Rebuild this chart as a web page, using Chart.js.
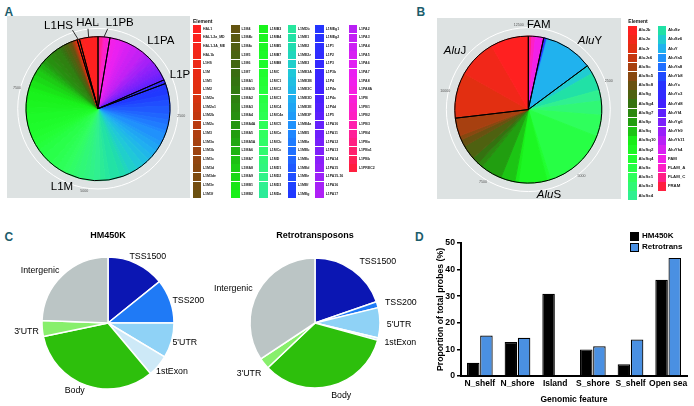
<!DOCTYPE html>
<html>
<head>
<meta charset="utf-8">
<script src="https://cdn.jsdelivr.net/npm/chart.js@4.4.1/dist/chart.umd.min.js"></script>
<style>
  body { margin: 0; width: 694px; height: 406px; position: relative; overflow: hidden; background: #fff; font-family: "Liberation Sans", Arial, sans-serif; }
  canvas { position: absolute; }
  .tag { position: absolute; font: bold 12px/12px "Liberation Sans Narrow", "Liberation Sans", sans-serif; color: #1b5d6b; }
  .panel { position: absolute; background: #dde2e2; }
  .ttl { position: absolute; font: bold 5px/5px "Liberation Sans", sans-serif; color: #111; }
  .leg { position: absolute; display: grid; grid-auto-flow: column; font-weight: bold; color: #222; white-space: nowrap; }
  .leg div { display: flex; align-items: center; }
  .leg i { display: inline-block; flex: none; }
  .dleg { position: absolute; font: bold 8px/8px "Liberation Sans", sans-serif; display: flex; align-items: center; }
  .dleg i { display: inline-block; width: 7px; height: 7px; border: 1px solid #000; margin-right: 3px; }
</style>
</head>
<body>
<div class="tag" style="left:4.5px;top:5.5px">A</div>
<div class="tag" style="left:416.5px;top:5.5px">B</div>
<div class="tag" style="left:4.5px;top:230.5px">C</div>
<div class="tag" style="left:415px;top:230.5px">D</div>

<div class="panel" style="left:7px;top:16px;width:183px;height:182px"></div>
<canvas id="cA" width="183" height="182" style="left:7px;top:16px"></canvas>
<canvas id="cA2" width="183" height="182" style="left:7px;top:16px"></canvas>
<div class="ttl" style="left:193px;top:18.6px">Element</div>
<div class="leg" id="legA" style="left:192.8px;top:25px"></div>

<div class="panel" style="left:437px;top:18px;width:184px;height:181px"></div>
<canvas id="cB" width="184" height="181" style="left:437px;top:18px"></canvas>
<canvas id="cB2" width="184" height="181" style="left:437px;top:18px"></canvas>
<div class="ttl" style="left:628.3px;top:18.6px">Element</div>
<div class="leg" id="legB" style="left:628.3px;top:25.7px"></div>

<canvas id="cC1" width="215" height="181" style="left:0px;top:225px"></canvas>
<canvas id="cC2" width="220" height="181" style="left:205px;top:225px"></canvas>

<canvas id="cD" width="269" height="181" style="left:425px;top:225px"></canvas>
<div class="dleg" style="left:630px;top:231.5px"><i style="background:#000"></i>HM450K</div>
<div class="dleg" style="left:630px;top:242.5px"><i style="background:#4a90e2"></i>Retrotrans</div>

<script>
// ---- Panel A: L1 elements (legend order) and probe counts
const l1Elements = [
  'HAL1','HAL1-2a_MD','HAL1-3A_ME','HAL1b','L1HS','L1M','L1M1','L1M2','L1M2a','L1M2a1',
  'L1M2b','L1M2c','L1M3','L1M3a','L1M3b','L1M3c','L1M3d','L1M3de','L1M3e','L1M3f',
  'L1M4','L1M4b','L1M4c','L1M5','L1M6','L1M7','L1MA1','L1MA10','L1MA2','L1MA3',
  'L1MA4','L1MA4A','L1MA5','L1MA5A','L1MA6','L1MA7','L1MA8','L1MA9','L1MB1','L1MB2',
  'L1MB3','L1MB4','L1MB5','L1MB7','L1MB8','L1MC','L1MC1','L1MC2','L1MC3','L1MC4',
  'L1MC4a','L1MC5','L1MCa','L1MCb','L1MCc','L1MD','L1MD1','L1MD2','L1MD3','L1MDa',
  'L1MDb','L1ME1','L1ME2','L1ME2z','L1ME3','L1ME3A','L1ME3B','L1ME3C','L1ME3D','L1ME3E',
  'L1ME3F','L1ME4a','L1ME5','L1MEa','L1MEb','L1MEc','L1MEd','L1MEe','L1MEf','L1MEg',
  'L1MEg1','L1MEg2','L1P1','L1P2','L1P3','L1P3b','L1P4','L1P4a','L1P4c','L1P4d',
  'L1P5','L1PA10','L1PA11','L1PA12','L1PA13','L1PA14','L1PA15','L1PA15-16','L1PA16','L1PA17',
  'L1PA2','L1PA3','L1PA4','L1PA5','L1PA6','L1PA7','L1PA8','L1PA8A','L1PB','L1PB1',
  'L1PB2','L1PB3','L1PB4','L1PBa','L1PBa1','L1PBb','L1PREC2'
];
const l1Counts = [
  300, 30, 25, 40, 50, 8, 8, 10, 8, 6,
  6, 8, 12, 8, 10, 8, 8, 10, 10, 8,
  50, 25, 20, 70, 25, 40, 30, 40, 140, 100,
  110, 40, 50, 40, 80, 60, 120, 130, 150, 100,
  190, 150, 140, 230, 190, 150, 140, 110, 150, 230,
  150, 140, 110, 120, 90, 150, 110, 110, 140, 110,
  100, 220, 130, 90, 175, 160, 150, 115, 130, 130,
  90, 190, 70, 130, 105, 120, 175, 130, 115, 130,
  60, 50, 10, 10, 15, 8, 12, 8, 6, 6,
  8, 80, 60, 50, 90, 70, 90, 40, 110, 60,
  60, 150, 140, 130, 90, 130, 100, 50, 30, 70,
  30, 25, 40, 25, 10, 15, 8
];
const l1AxisTicks = [0, 2500, 5000, 7500];

// ---- Panel B: Alu elements (legend order) and probe counts
const aluElements = [
  'AluJb','AluJo','AluJr','AluJr4','AluSc','AluSc5','AluSc8','AluSg','AluSg4','AluSg7',
  'AluSp','AluSq','AluSq10','AluSq2','AluSq4','AluSx','AluSx1','AluSx3','AluSx4',
  'AluSz','AluSz6','AluY','AluYa5','AluYa8','AluYb8','AluYc','AluYc3','AluYd8','AluYf4',
  'AluYg6','AluYh9','AluYk11','AluYk4','FAM','FLAM_A','FLAM_C','FRAM'
];
const aluCounts = [
  1060, 1080, 1240, 40, 500, 120, 200, 400, 200, 150,
  600, 400, 100, 800, 100, 1800, 600, 400, 300,
  500, 250, 1350, 14, 10, 15, 15, 10, 8, 8,
  6, 10, 6, 8, 230, 100, 60, 40
];
const aluAxisTicks = [0, 2500, 5000, 7500, 10000, 12500];

// ---- Panel C: genomic feature distribution (%)
const features = ['TSS1500', 'TSS200', "5'UTR", '1stExon', 'Body', "3'UTR", 'Intergenic'];
const hm450kFeature = [14.2, 10.8, 8.6, 5.3, 32.8, 3.9, 24.4];
const retroFeature = [19.7, 1.5, 7.5, 0.6, 33.6, 2.8, 34.3];
const featureColors = ['#0b16b3', '#1f7af6', '#8fd2f6', '#cde9f7', '#2dbf0c', '#88ef6c', '#bbc5c5'];

// ---- Panel D: CpG island context (%)
const cgiFeatures = ['N_shelf', 'N_shore', 'Island', 'S_shore', 'S_shelf', 'Open sea'];
const hm450kCgi = [5.0, 12.8, 30.9, 10.0, 4.4, 36.2];
const retroCgi = [15.2, 14.4, 0.2, 11.2, 13.7, 44.4];

// groups used for the black outlines and the big labels
function l1Group(n) {
  if (n.startsWith('HAL')) return 'HAL';
  if (n === 'L1HS') return 'L1HS';
  if (n.startsWith('L1PB') || n === 'L1PREC2') return 'L1PB';
  if (n.startsWith('L1PA')) return 'L1PA';
  if (/^L1P\d/.test(n)) return 'L1P';
  return 'L1M';
}
function aluGroup(n) {
  if (n.startsWith('AluJ')) return 'AluJ';
  if (n.startsWith('AluS')) return 'AluS';
  if (n.startsWith('AluY')) return 'AluY';
  return 'FAM';
}

// colour ramp red -> brown -> green -> cyan -> blue -> purple -> magenta -> red
const ramp = [
  [0, '#ff2020'], [0.06, '#e03010'], [0.11, '#a84010'], [0.165, '#6a5010'], [0.22, '#357010'],
  [0.28, '#20a010'], [0.335, '#18f018'], [0.39, '#20ff30'], [0.45, '#30ff60'], [0.5, '#30f090'],
  [0.53, '#20e0a8'], [0.56, '#20c8d8'], [0.585, '#20b0f0'], [0.62, '#2088ff'], [0.68, '#2038ff'],
  [0.75, '#4020ff'], [0.84, '#a020f8'], [0.91, '#f020f0'], [0.95, '#ff20c0'], [1, '#ff2040']
];
function hex(c) { return [1, 3, 5].map(i => parseInt(c.substr(i, 2), 16)); }
function rampColor(t) {
  let i = 1;
  while (i < ramp.length - 1 && ramp[i][0] < t) i++;
  const [t0, c0] = ramp[i - 1], [t1, c1] = ramp[i];
  const f = (t - t0) / (t1 - t0), a = hex(c0), b = hex(c1);
  return 'rgb(' + a.map((v, k) => Math.round(v + (b[k] - v) * f)).join(',') + ')';
}
const paletteFor = names => names.map((_, i) => rampColor(i / (names.length - 1)));

function padFor(w, h, cx, cy, r, bw) {
  const side = 2 * r + bw;
  return { left: cx - side / 2, top: cy - side / 2, right: w - cx - side / 2, bottom: h - cy - side / 2 };
}

function buildLegend(el, names, colors, rows, cols, rowH, size) {
  el.style.gridTemplateRows = `repeat(${rows}, ${rowH}px)`;
  el.style.gridTemplateColumns = cols.map(c => c + 'px').join(' ');
  el.style.fontSize = size + 'px';
  el.style.lineHeight = size + 'px';
  names.forEach((n, i) => {
    const d = document.createElement('div');
    const sw = document.createElement('i');
    sw.style.cssText = `width:8.4px;height:${rowH - 0.6}px;margin-right:1.8px;background:${colors[i]}`;
    d.appendChild(sw);
    d.appendChild(document.createTextNode(n));
    el.appendChild(d);
  });
}

const polarGrid = {
  id: 'polarGrid',
  beforeDatasetsDraw(chart, args, opts) {
    const arc = chart.getDatasetMeta(0).data[0];
    const total = chart.data.datasets[0].data.reduce((a, b) => a + b, 0);
    const ctx = chart.ctx, r = arc.outerRadius;
    ctx.save();
    ctx.strokeStyle = '#fff';
    ctx.lineWidth = 1;
    ctx.beginPath();
    ctx.arc(arc.x, arc.y, r * 1.115, 0, Math.PI * 2);
    ctx.stroke();
    ctx.fillStyle = '#555';
    ctx.font = '3.6px "Liberation Sans"';
    ctx.textAlign = 'center';
    ctx.textBaseline = 'middle';
    opts.ticks.forEach(v => {
      const a = v / total * Math.PI * 2;
      ctx.fillText(String(v), arc.x + Math.sin(a) * r * 1.16, arc.y - Math.cos(a) * r * 1.16);
    });
    ctx.restore();
  }
};

function drawMixed(ctx, text, x, y, size) {
  const m = /^(Alu)(.*)$/.exec(text);
  ctx.textBaseline = 'middle';
  if (!m) {
    ctx.font = `${size}px "Liberation Sans"`;
    ctx.textAlign = 'center';
    ctx.fillText(text, x, y);
    return;
  }
  ctx.font = `italic ${size}px "Liberation Sans"`;
  const w1 = ctx.measureText(m[1]).width;
  ctx.font = `${size}px "Liberation Sans"`;
  const w2 = ctx.measureText(m[2]).width;
  const sx = x - (w1 + w2) / 2;
  ctx.textAlign = 'left';
  ctx.font = `italic ${size}px "Liberation Sans"`;
  ctx.fillText(m[1], sx, y);
  ctx.font = `${size}px "Liberation Sans"`;
  ctx.fillText(m[2], sx + w1, y);
}

const groupText = {
  id: 'groupText',
  afterDraw(chart, args, opts) {
    const ctx = chart.ctx;
    ctx.save();
    ctx.fillStyle = '#000';
    ctx.strokeStyle = '#000';
    ctx.lineWidth = 0.8;
    chart.getDatasetMeta(0).data.forEach((arc, i) => {
      const name = chart.data.labels[i];
      const p = opts.at[name];
      if (!p) return;
      const x = arc.x + p[0], y = arc.y + p[1];
      drawMixed(ctx, name, x, y, 11.5);
      if (p.length > 2) {
        const mid = (arc.startAngle + arc.endAngle) / 2;
        ctx.beginPath();
        ctx.moveTo(x + p[2], y + p[3]);
        ctx.lineTo(arc.x + Math.cos(mid) * arc.outerRadius, arc.y + Math.sin(mid) * arc.outerRadius);
        ctx.stroke();
      }
    });
    ctx.restore();
  }
};

const pieText = {
  id: 'pieText',
  afterDraw(chart, args, opts) {
    const arc = chart.getDatasetMeta(0).data[0];
    const ctx = chart.ctx;
    ctx.save();
    ctx.fillStyle = '#000';
    ctx.textAlign = 'center';
    ctx.textBaseline = 'middle';
    ctx.font = 'bold 9px "Liberation Sans"';
    ctx.fillText(opts.title, arc.x, arc.y - 87);
    ctx.font = '8.8px "Liberation Sans"';
    chart.data.labels.forEach(lab => {
      const p = opts.at[lab];
      ctx.fillText(lab, arc.x + p[0], arc.y + p[1]);
    });
    ctx.restore();
  }
};

function mergeGroups(names, counts, groupOf) {
  const labels = [], sums = [];
  names.forEach((n, i) => {
    const g = groupOf(n);
    if (labels.length && labels[labels.length - 1] === g) sums[sums.length - 1] += counts[i];
    else { labels.push(g); sums.push(counts[i]); }
  });
  return { labels, sums };
}

const baseOpts = padding => ({
  responsive: false, animation: false, events: [],
  layout: { padding },
  plugins: { legend: { display: false }, tooltip: { enabled: false } }
});

function elementPie(id, outlineId, names, counts, groupOf, ticks, geom, labelAt) {
  const colors = paletteFor(names);
  const pad = padFor(geom.w, geom.h, geom.cx, geom.cy, geom.r, 1);
  // clockwise order is the reverse of the legend order
  const rNames = names.slice().reverse();
  const rCounts = counts.slice().reverse();
  const rColors = colors.slice().reverse();
  new Chart(document.getElementById(id), {
    type: 'pie',
    data: {
      labels: rNames,
      datasets: [{ data: rCounts, backgroundColor: rColors, borderColor: rColors,
        borderWidth: 1, hoverBorderWidth: 1, hoverOffset: 0 }]
    },
    options: { ...baseOpts(pad), plugins: { legend: { display: false }, tooltip: { enabled: false }, polarGrid: { ticks } } },
    plugins: [polarGrid]
  });
  const g = mergeGroups(rNames, rCounts, groupOf);
  new Chart(document.getElementById(outlineId), {
    type: 'pie',
    data: {
      labels: g.labels,
      datasets: [{ data: g.sums, backgroundColor: 'rgba(0,0,0,0)', borderColor: '#000',
        borderWidth: 1, hoverBorderWidth: 1, hoverOffset: 0 }]
    },
    options: { ...baseOpts(pad), plugins: { legend: { display: false }, tooltip: { enabled: false }, groupText: { at: labelAt } } },
    plugins: [groupText]
  });
  return colors;
}

const colA = elementPie('cA', 'cA2', l1Elements, l1Counts, l1Group, l1AxisTicks,
  { w: 183, h: 182, cx: 91, cy: 92.7, r: 72 },
  { L1HS: [-39.5, -82.5, 14, 4], HAL: [-10.5, -85.4, 0.5, 5.5], L1PB: [21.7, -85.4, -12, 5.5],
    L1PA: [62.8, -68.2], L1P: [82, -34], L1M: [-36, 77.8] });
const colB = elementPie('cB', 'cB2', aluElements, aluCounts, aluGroup, aluAxisTicks,
  { w: 184, h: 181, cx: 91.3, cy: 91.6, r: 73.5 },
  { FAM: [10.5, -84.6], AluY: [61.7, -69.1], AluS: [20.7, 85.1], AluJ: [-73.3, -58.4] });

buildLegend(document.getElementById('legA'), l1Elements, colA, 20, [38.4, 28.3, 28.3, 27.7, 33.3, 40], 8.7, 3.5);
buildLegend(document.getElementById('legB'), aluElements, colB, 19, [29.4, 40], 9.2, 4.3);

function featurePie(id, values, geom, title, labelAt) {
  new Chart(document.getElementById(id), {
    type: 'pie',
    data: {
      labels: features,
      datasets: [{ data: values, backgroundColor: featureColors, borderColor: '#fff',
        borderWidth: 1.5, hoverBorderWidth: 1.5, hoverOffset: 0 }]
    },
    options: { ...baseOpts(padFor(geom.w, geom.h, geom.cx, geom.cy, geom.r, 1.5)),
      plugins: { legend: { display: false }, tooltip: { enabled: false }, pieText: { title, at: labelAt } } },
    plugins: [pieText]
  });
}

featurePie('cC1', hm450kFeature, { w: 215, h: 181, cx: 108, cy: 98, r: 66 }, 'HM450K', {
  TSS1500: [39.8, -66], TSS200: [80.3, -22.7], "5'UTR": [76.8, 20], '1stExon': [64, 49],
  Body: [-33.3, 67.3], "3'UTR": [-81.5, 8.3], Intergenic: [-68, -52.2]
});
featurePie('cC2', retroFeature, { w: 220, h: 181, cx: 110, cy: 98, r: 65 }, 'Retrotransposons', {
  TSS1500: [62.8, -61.3], TSS200: [85.8, -20.5], "5'UTR": [84, 1.5], '1stExon': [85.3, 20],
  Body: [26.2, 72.5], "3'UTR": [-66, 50.7], Intergenic: [-81.7, -34]
});

const boldFont = size => ({ family: '"Liberation Sans"', size, weight: 'bold' });
new Chart(document.getElementById('cD'), {
  type: 'bar',
  data: {
    labels: cgiFeatures,
    datasets: [
      { label: 'HM450K', data: hm450kCgi, backgroundColor: '#000', borderColor: '#000', borderWidth: 1.2 },
      { label: 'Retrotrans', data: retroCgi, backgroundColor: '#4a90e2', borderColor: '#000', borderWidth: 1.2 }
    ]
  },
  options: {
    ...baseOpts({ top: 18, right: 7, left: 0, bottom: 0 }),
    datasets: { bar: { categoryPercentage: 0.7, barPercentage: 0.95 } },
    scales: {
      x: {
        grid: { display: false, drawTicks: false },
        border: { display: true, color: '#000', width: 2 },
        ticks: { color: '#000', font: boldFont(8.5), padding: 3, maxRotation: 0, autoSkip: false },
        title: { display: true, text: 'Genomic feature', color: '#000', font: boldFont(8.5), padding: { top: 1, bottom: 1 } },
        afterFit(s) { s.height = 30; }
      },
      y: {
        min: 0, max: 50,
        ticks: { stepSize: 10, color: '#000', font: boldFont(8.7), padding: 2 },
        grid: { drawOnChartArea: false, drawTicks: true, tickLength: 4, color: '#000', lineWidth: 1.5 },
        border: { color: '#000', width: 2 },
        title: { display: true, text: 'Proportion of total probes (%)', color: '#000', font: boldFont(8.7), padding: { top: 10, bottom: 0 } },
        afterFit(s) { s.width = 36; }
      }
    }
  }
});
</script>
</body>
</html>
